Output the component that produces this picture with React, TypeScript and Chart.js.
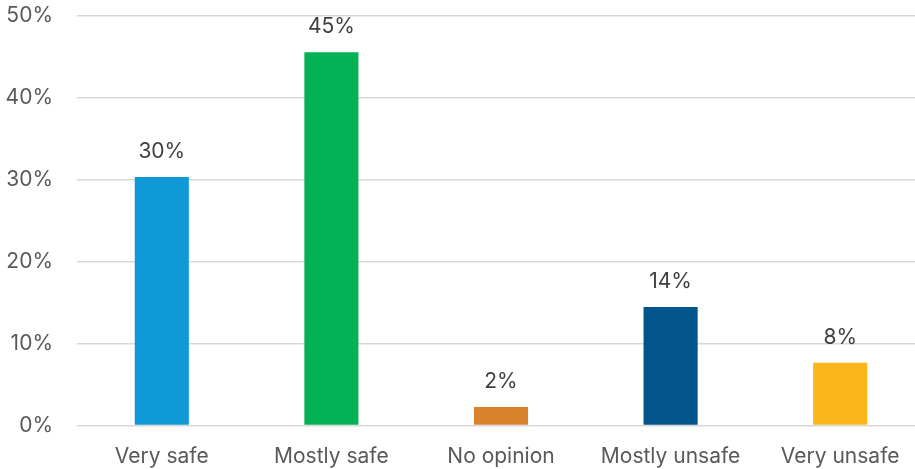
import React, { useEffect, useRef } from "react";
import { Chart, registerables } from "chart.js";

Chart.register(...registerables);

const categories = ["Very safe", "Mostly safe", "No opinion", "Mostly unsafe", "Very unsafe"];
const values = [30.3, 45.5, 2.25, 14.45, 7.65];
const valueLabels = ["30%", "45%", "2%", "14%", "8%"];
const barColors = ["#0F99D6", "#02B254", "#D9822B", "#02558B", "#FBB719"];
const yTicks = [0, 10, 20, 30, 40, 50];

const FONT = "Inter, 'Open Sans', sans-serif";
const FSIZE = 21;

const dataLabelPlugin = {
  id: "dataLabels",
  afterDatasetsDraw(chart: any) {
    const ctx = chart.ctx;
    const meta = chart.getDatasetMeta(0);
    ctx.save();
    ctx.font = `${FSIZE}px ${FONT}`;
    ctx.fillStyle = "#404040";
    ctx.textAlign = "center";
    ctx.textBaseline = "alphabetic";
    meta.data.forEach((bar: any, i: number) => {
      ctx.fillText(valueLabels[i], bar.x, bar.y - 19);
    });
    ctx.restore();
  },
};

export default function App() {
  const ref = useRef<HTMLCanvasElement>(null);
  useEffect(() => {
    if (!ref.current) return;
    const chart = new Chart(ref.current, {
      type: "bar",
      data: {
        labels: categories,
        datasets: [
          {
            data: values,
            backgroundColor: barColors,
            borderWidth: 0,
            categoryPercentage: 1,
            barPercentage: 0.319,
          },
        ],
      },
      options: {
        animation: false,
        responsive: true,
        maintainAspectRatio: false,
        layout: { padding: { top: 15.3, left: 0, right: 0, bottom: 0 } },
        plugins: { legend: { display: false }, tooltip: { enabled: false } },
        scales: {
          x: {
            grid: { display: false },
            border: { display: false },
            ticks: {
              color: "#595959",
              font: { family: FONT, size: FSIZE },
              padding: 11,
              maxRotation: 0,
              autoSkip: false,
            },
            afterFit: (scale: any) => {
              scale.height = 43.5;
              scale.paddingLeft = 0;
              scale.paddingRight = 0;
            },
          },
          y: {
            min: 0,
            max: 50,
            afterBuildTicks: (scale: any) => {
              scale.ticks = yTicks.map((v) => ({ value: v }));
            },
            grid: { color: "#D9D9D9", lineWidth: 1.5, drawTicks: false },
            border: { display: false },
            ticks: {
              color: "#595959",
              font: { family: FONT, size: FSIZE },
              padding: 24,
              callback: (v: any) => `${v}%`,
            },
            afterFit: (scale: any) => {
              scale.width = 77;
              scale.paddingTop = 0;
              scale.paddingBottom = 0;
            },
          },
        },
      },
      plugins: [dataLabelPlugin],
    });
    return () => chart.destroy();
  }, []);
  return (
    <div
      style={{
        position: "fixed",
        left: 0,
        top: 0,
        width: 915,
        height: 469,
        overflow: "hidden",
        background: "#fff",
      }}
    >
      <div style={{ position: "absolute", left: 0, top: 0, width: 925, height: 469 }}>
        <canvas ref={ref} />
      </div>
    </div>
  );
}
